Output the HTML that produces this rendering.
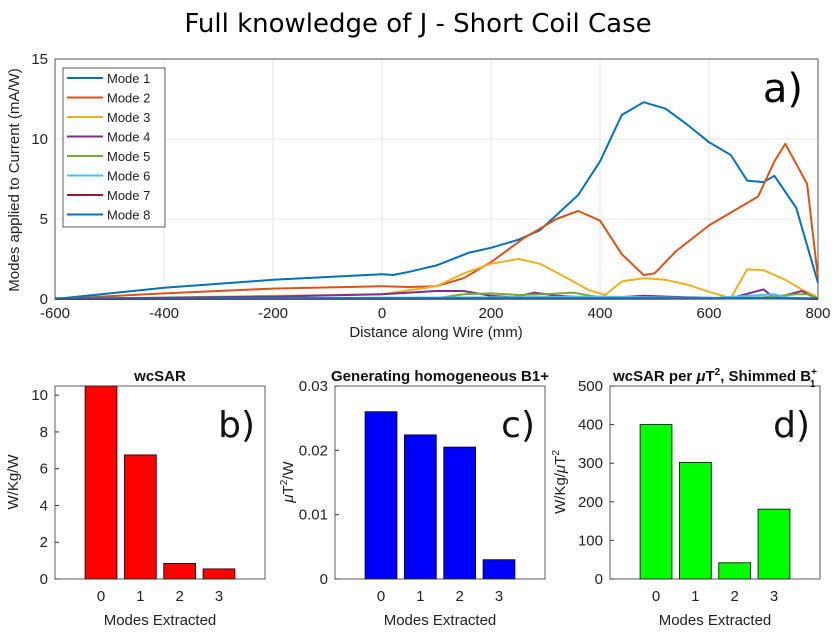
<!DOCTYPE html>
<html><head><meta charset="utf-8"><style>
body{margin:0;background:#fff;}
svg{display:block;font-family:"Liberation Sans",sans-serif;}
</style></head><body>
<svg id="c" width="836" height="633" viewBox="0 0 836 633" xmlns="http://www.w3.org/2000/svg"></svg>
<script>
const xs1=[-600,-400,-200,0,20,50,100,160,200,250,290,360,400,440,480,520,560,600,640,670,700,720,760,800];
const m1=[0,0.7,1.2,1.55,1.5,1.7,2.1,2.9,3.2,3.7,4.3,6.5,8.6,11.5,12.3,11.9,10.9,9.8,9.0,7.4,7.3,7.7,5.7,1.0];
const xs2=[-600,-400,-200,0,50,100,150,200,260,320,360,400,440,480,500,540,600,650,690,720,740,780,800];
const m2=[0,0.35,0.65,0.8,0.75,0.8,1.3,2.3,3.8,5.0,5.5,4.9,2.8,1.5,1.6,3.0,4.6,5.6,6.4,8.6,9.7,7.2,1.3];
const xs3=[-600,0,100,150,200,250,290,340,380,410,440,480,520,560,600,640,670,700,740,770,800];
const m3=[0,0.3,0.8,1.6,2.2,2.5,2.2,1.3,0.55,0.25,1.1,1.3,1.2,0.9,0.45,0.05,1.85,1.8,1.2,0.6,0.1];
const xs4=[-600,-200,0,100,150,200,240,280,320,400,480,560,640,700,720,770,800];
const m4=[0,0.15,0.3,0.5,0.5,0.2,0.1,0.4,0.2,0.05,0.2,0.1,0.05,0.6,0.05,0.5,0];
const xs5=[-600,100,150,200,250,300,350,400,500,640,700,760,780,800];
const m5=[0,0.05,0.3,0.35,0.25,0.3,0.4,0.1,0.05,0.05,0.1,0.3,0.3,0];
const xs6=[-600,200,400,500,600,720,740,800];
const m6=[0,0.1,0.15,0.1,0.05,0.3,0.1,0];
const xs7=[-600,600,700,800];
const m7=[0,0.02,0.05,0];
const xs8=[-600,0,400,800];
const m8=[0.05,0.05,0.05,0.05];
const xTicks=[-600,-400,-200,0,200,400,600,800];
const yTicks=[0,5,10,15];
const barCats=[0,1,2,3];
const barB=[11,6.75,0.85,0.55];
const barC=[0.026,0.0224,0.0205,0.003];
const barD=[400,302,42,181];

const svg=document.getElementById('c');
const NS='http://www.w3.org/2000/svg';
function mk(t,a,txt){const e=document.createElementNS(NS,t);for(const k in a)e.setAttribute(k,a[k]);if(txt!==undefined)e.textContent=txt;svg.appendChild(e);return e;}

// Main chart
const L=55,R=818,T=59,B=299;
const sx=v=>L+(v+600)/1400*(R-L);
const sy=v=>B-v/15*(B-T);
let t=mk('text',{x:418,y:32,'text-anchor':'middle','font-size':26,'font-family':'DejaVu Sans, sans-serif'},'Full knowledge of J - Short Coil Case');

xTicks.forEach(v=>{let g=mk('line',{x1:sx(v),x2:sx(v),y1:T,y2:B,stroke:'#e6e6e6'});
 let l=mk('text',{x:sx(v),y:B+19,'text-anchor':'middle','font-size':15,fill:'#222'},v);});
yTicks.forEach(v=>{let g=mk('line',{x1:L,x2:R,y1:sy(v),y2:sy(v),stroke:'#e6e6e6'});
 let l=mk('text',{x:L-7,y:sy(v)+5,'text-anchor':'end','font-size':15,fill:'#222'},v);});
let ax=mk('rect',{x:L,y:T,width:R-L,height:B-T,fill:'none',stroke:'#333','stroke-width':0.8});

const series=[[xs1,m1,'#0072BD'],[xs2,m2,'#D95319'],[xs3,m3,'#EDB120'],[xs4,m4,'#7E2F8E'],[xs5,m5,'#77AC30'],[xs6,m6,'#4DBEEE'],[xs7,m7,'#A2142F'],[xs8,m8,'#0072BD']];
series.forEach((s,i)=>{const p=s[0].map((x,j)=>sx(x)+','+sy(s[1][j])).join(' ');
 let pl=mk('polyline',{points:p,fill:'none',stroke:s[2],'stroke-width':2,'stroke-linejoin':'round'});
 });
let xl=mk('text',{x:436,y:337,'text-anchor':'middle','font-size':15,fill:'#222'},'Distance along Wire (mm)');

let yl=mk('text',{x:0,y:0,'text-anchor':'middle','font-size':15,fill:'#222',transform:'translate(19,180) rotate(-90)'},'Modes applied to Current (mA/W)');

let pa=mk('text',{x:803,y:102,'text-anchor':'end','font-size':40,'font-family':'DejaVu Sans, sans-serif'},'a)');

let lg=mk('rect',{x:63,y:68,width:102,height:159,fill:'#fff',stroke:'#333','stroke-width':0.8});

series.forEach((s,i)=>{const y=78+i*19.5;
 let ln=mk('line',{x1:67,x2:103,y1:y,y2:y,stroke:s[2],'stroke-width':2});
 let tx=mk('text',{x:107,y:y+5,'font-size':13,fill:'#222'},'Mode '+(i+1));});

// Bar charts
function bars(x0,x1,ymax,ticks,vals,color,title,ylab,lab,name,ytx){
 const bT=386,bB=579;
 const xmin=-1.17,xmax=4.17;
 const bx=v=>x0+(v-xmin)/(xmax-xmin)*(x1-x0);
 const by=v=>bB-Math.min(v,ymax)/ymax*(bB-bT);
 const w=0.81*(x1-x0)/(xmax-xmin);
 barCats.forEach((c,i)=>{let r=mk('rect',{x:bx(c)-w/2,y:by(vals[i]),width:w,height:bB-by(vals[i]),fill:color,stroke:'#000','stroke-width':0.8});
  
  let l=mk('text',{x:bx(c),y:bB+22,'text-anchor':'middle','font-size':15,fill:'#222'},c);});
 ticks.forEach(v=>{let l=mk('text',{x:x0-7,y:by(v)+5,'text-anchor':'end','font-size':15,fill:'#222'},v);
  let tk=mk('line',{x1:x0,x2:x0+4,y1:by(v),y2:by(v),stroke:'#333'});});
 let a=mk('rect',{x:x0,y:bT,width:x1-x0,height:bB-bT,fill:'none',stroke:'#333','stroke-width':0.8});
 let tt=mk('text',{x:(x0+x1)/2,y:381,'text-anchor':'middle','font-size':15,'font-weight':'bold',fill:'#111'});tt.innerHTML=title;
 let xl=mk('text',{x:(x0+x1)/2,y:625,'text-anchor':'middle','font-size':15,fill:'#222'},'Modes Extracted');
 let yl=mk('text',{x:0,y:0,'text-anchor':'middle','font-size':15,fill:'#222',transform:'translate('+ytx+',482) rotate(-90)'});yl.innerHTML=ylab;
 let pl=mk('text',{x:x1-10,y:437,'text-anchor':'end','font-size':36,'font-family':'DejaVu Sans, sans-serif',fill:'#111'},lab);
}
bars(55,265,10.5,[0,2,4,6,8,10],barB,'#ff0000','wcSAR','W/Kg/W','b)','wcsar',18);
bars(335,545,0.03,[0,0.01,0.02,0.03],barC,'#0000ff','Generating homogeneous B1+','<tspan font-style="italic">μ</tspan>T<tspan dy="-6" font-size="10">2</tspan><tspan dy="6">/W</tspan>','c)','b1',293);
bars(610,820,500,[0,100,200,300,400,500],barD,'#00ff00','wcSAR per <tspan font-style="italic">μ</tspan>T<tspan dy="-6" font-size="10">2</tspan><tspan dy="6">, Shimmed B</tspan><tspan dy="-6" font-size="10">+</tspan><tspan dx="-7" dy="12" font-size="10">1</tspan>','W/Kg/<tspan font-style="italic">μ</tspan>T<tspan dy="-6" font-size="10">2</tspan>','d)','wcsar-shim',565);
</script>
</body></html>
